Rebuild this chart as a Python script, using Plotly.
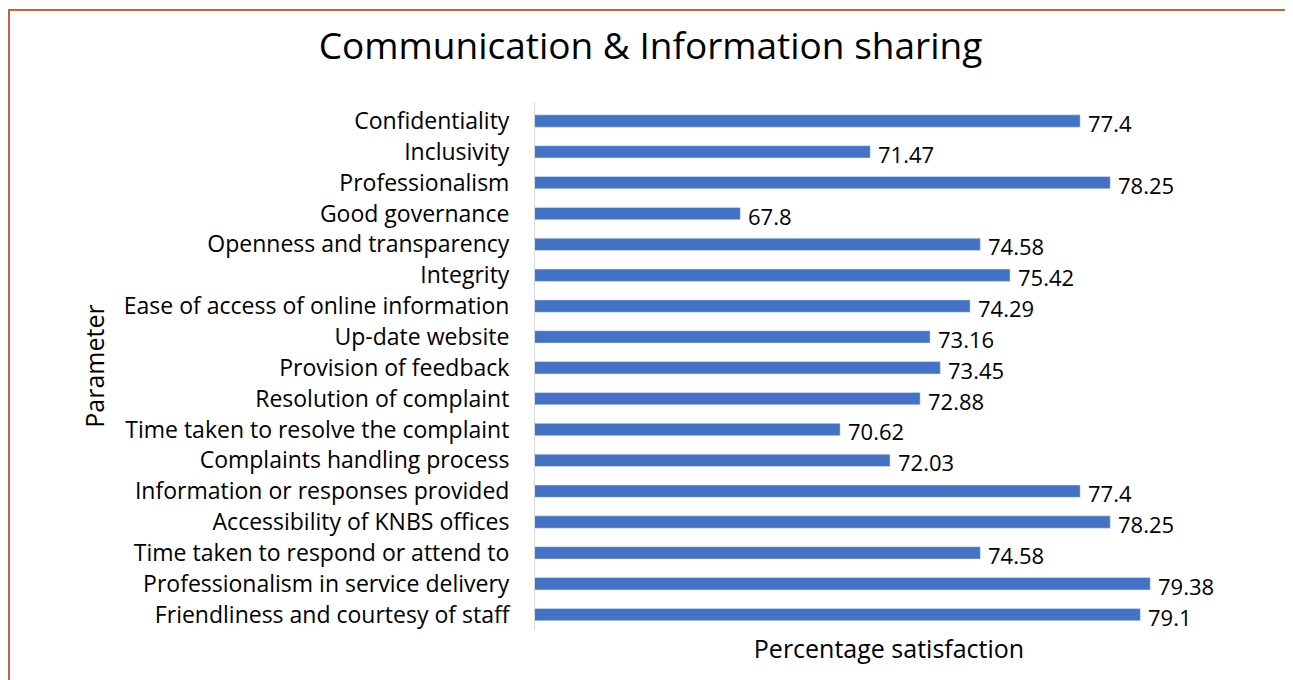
import plotly.graph_objects as go

categories = [
    "Confidentiality",
    "Inclusivity",
    "Professionalism",
    "Good governance",
    "Openness and transparency",
    "Integrity",
    "Ease of access of online information",
    "Up-date website",
    "Provision of feedback",
    "Resolution of complaint",
    "Time taken to resolve the complaint",
    "Complaints handling process",
    "Information or responses provided",
    "Accessibility of KNBS offices",
    "Time taken to respond or attend to",
    "Professionalism in service delivery",
    "Friendliness and courtesy of staff",
]
values = [77.4, 71.47, 78.25, 67.8, 74.58, 75.42, 74.29, 73.16, 73.45, 72.88,
          70.62, 72.03, 77.4, 78.25, 74.58, 79.38, 79.1]
value_labels = ["77.4", "71.47", "78.25", "67.8", "74.58", "75.42", "74.29", "73.16",
                "73.45", "72.88", "70.62", "72.03", "77.4", "78.25", "74.58", "79.38", "79.1"]

# page offset of the plot div is ~8px (body margin)
W, H = 1285, 672
ML, MR, MT, MB = 527, 50, 94, 50
FONT = "Open Sans"

fig = go.Figure(go.Bar(
    x=values,
    y=categories,
    orientation="h",
    marker=dict(color="#4472C4"),
    hoverinfo="x+y",
))

annotations = [
    dict(x=v, y=c, xref="x", yref="y", text=t, showarrow=False,
         xanchor="left", yanchor="middle", xshift=6, yshift=-2,
         font=dict(family=FONT, size=22, color="#000000"))
    for c, v, t in zip(categories, values, value_labels)
]

pw = W - ML - MR
ph = H - MT - MB

def px_x(p):
    return (p - ML) / pw

def px_y(p):
    return (H - MB - p) / ph

fig.update_layout(
    width=W, height=H,
    margin=dict(l=ML, r=MR, t=MT, b=MB),
    paper_bgcolor="white",
    plot_bgcolor="white",
    bargap=0.6,
    showlegend=False,
    title=dict(
        text="Communication & Information sharing",
        x=0.5, xanchor="center",
        y=1 - 38 / H, yanchor="middle",
        font=dict(family=FONT, size=37, color="#000000"),
    ),
    font=dict(family=FONT, color="#000000"),
    xaxis=dict(
        range=[62, 82],
        showticklabels=False,
        showgrid=False,
        zeroline=False,
        showline=False,
        ticks="",
        title=dict(text="Percentage satisfaction",
                   font=dict(family=FONT, size=25, color="#000000"),
                   standoff=10),
    ),
    yaxis=dict(
        autorange="reversed",
        showgrid=False,
        zeroline=False,
        showline=True,
        linecolor="#D9D9D9",
        linewidth=1,
        ticks="",
        ticklabelstandoff=20,
        tickfont=dict(family=FONT, size=23, color="#000000"),
        title=dict(text="Parameter",
                   font=dict(family=FONT, size=25, color="#000000"),
                   standoff=12),
    ),
    annotations=annotations,
    shapes=[
        dict(type="rect", xref="paper", yref="paper",
             x0=px_x(1), x1=px_x(1310), y0=px_y(700), y1=px_y(2),
             line=dict(color="#C9603E", width=2), fillcolor="rgba(0,0,0,0)",
             layer="below"),
    ],
)

fig.write_html("out.html")
